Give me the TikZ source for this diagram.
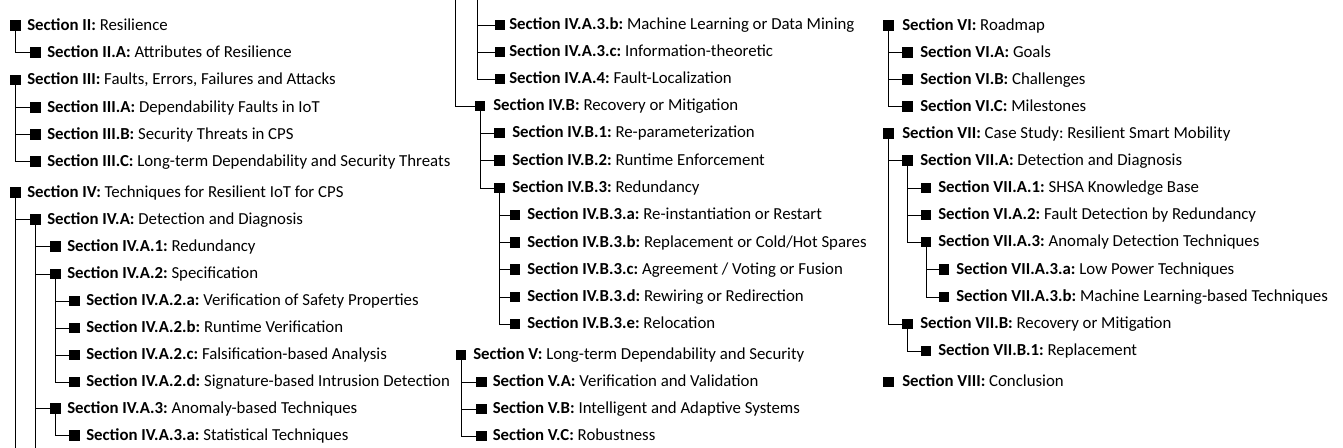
\documentclass[tikz,border=0pt]{standalone}
\usepackage{fontspec}
\setmainfont{Carlito}
\tikzset{
  sq/.style={fill=black, draw=none, inner sep=0pt, minimum size=7.6pt},
  lbl/.style={anchor=base west, inner sep=0pt, font=\fontsize{12.6}{15}\selectfont\frenchspacing},
  conn/.style={draw=black, line width=0.7pt}
}
\newcommand\ent[6]{%
  \node[sq] (#1) at (#2,#3) {};
  \node[lbl] (#1t) at (#4,#3+5) {\textbf{#5:} #6};}
\begin{document}
\begin{tikzpicture}[x=0.75pt,y=-0.75pt]
\fill[white] (0,0) rectangle (1343,448);
\useasboundingbox (0,0) rectangle (1343,448);
% column 1
\ent{s2}{15.5}{25.5}{27}{Section II}{Resilience}
\ent{s2A}{35.5}{52.5}{47}{Section II.A}{Attributes of Resilience}
\ent{s3}{15.5}{80}{27}{Section III}{Faults, Errors, Failures and Attacks}
\ent{s3A}{35.5}{107.5}{47}{Section III.A}{Dependability Faults in IoT}
\ent{s3B}{35.5}{134.5}{47}{Section III.B}{Security Threats in CPS}
\ent{s3C}{35.5}{161.5}{47}{Section III.C}{Long-term Dependability and Security Threats}
\ent{s4}{15.5}{192.5}{27}{Section IV}{Techniques for Resilient IoT for CPS}
\ent{s4A}{35.5}{219.5}{47}{Section IV.A}{Detection and Diagnosis}
\ent{s4A1}{55.5}{246.5}{67}{Section IV.A.1}{Redundancy}
\ent{s4A2}{55.5}{274}{67}{Section IV.A.2}{Specification}
\ent{s4A2a}{74.5}{301}{86}{Section IV.A.2.a}{Verification of Safety Properties}
\ent{s4A2b}{74.5}{328}{86}{Section IV.A.2.b}{Runtime Verification}
\ent{s4A2c}{74.5}{355}{86}{Section IV.A.2.c}{Falsification-based Analysis}
\ent{s4A2d}{74.5}{382}{86}{Section IV.A.2.d}{Signature-based Intrusion Detection}
\ent{s4A3}{55.5}{408.5}{67}{Section IV.A.3}{Anomaly-based Techniques}
\ent{s4A3a}{74.5}{435.5}{86}{Section IV.A.3.a}{Statistical Techniques}
% column 2
\ent{s4A3b}{500}{25}{509}{Section IV.A.3.b}{Machine Learning or Data Mining}
\ent{s4A3c}{500}{52}{509}{Section IV.A.3.c}{Information-theoretic}
\ent{s4A4}{500}{79}{509}{Section IV.A.4}{Fault-Localization}
\ent{s4B}{480}{106}{493}{Section IV.B}{Recovery or Mitigation}
\ent{s4B1}{499.5}{133}{512}{Section IV.B.1}{Re-parameterization}
\ent{s4B2}{499.5}{160.5}{512}{Section IV.B.2}{Runtime Enforcement}
\ent{s4B3}{499.5}{188}{512}{Section IV.B.3}{Redundancy}
\ent{s4B3a}{515}{215}{527}{Section IV.B.3.a}{Re-instantiation or Restart}
\ent{s4B3b}{515}{242.5}{527}{Section IV.B.3.b}{Replacement or Cold/Hot Spares}
\ent{s4B3c}{515}{269.5}{527}{Section IV.B.3.c}{Agreement / Voting or Fusion}
\ent{s4B3d}{515}{297}{527}{Section IV.B.3.d}{Rewiring or Redirection}
\ent{s4B3e}{515}{324}{527}{Section IV.B.3.e}{Relocation}
\ent{s5}{461}{355}{473}{Section V}{Long-term Dependability and Security}
\ent{s5A}{481.5}{382}{492.5}{Section V.A}{Verification and Validation}
\ent{s5B}{481.5}{409}{492.5}{Section V.B}{Intelligent and Adaptive Systems}
\ent{s5C}{481.5}{436}{492.5}{Section V.C}{Robustness}
% column 3
\ent{s6}{888.5}{25.5}{902}{Section VI}{Roadmap}
\ent{s6A}{907.5}{52.5}{920}{Section VI.A}{Goals}
\ent{s6B}{907.5}{79.5}{920}{Section VI.B}{Challenges}
\ent{s6C}{907.5}{106.5}{920}{Section VI.C}{Milestones}
\ent{s7}{888.5}{133.5}{902}{Section VII}{Case Study: Resilient Smart Mobility}
\ent{s7A}{907.5}{160.5}{920}{Section VII.A}{Detection and Diagnosis}
\ent{s7A1}{926}{188}{938}{Section VII.A.1}{SHSA Knowledge Base}
\ent{s7A2}{926}{215}{938}{Section VI.A.2}{Fault Detection by Redundancy}
\ent{s7A3}{926}{242}{938}{Section VII.A.3}{Anomaly Detection Techniques}
\ent{s7A3a}{944}{269.5}{956}{Section VII.A.3.a}{Low Power Techniques}
\ent{s7A3b}{944}{297}{956}{Section VII.A.3.b}{Machine Learning-based Techniques}
\ent{s7B}{907.5}{324}{920}{Section VII.B}{Recovery or Mitigation}
\ent{s7B1}{926}{351}{938}{Section VII.B.1}{Replacement}
\ent{s8}{888.5}{382}{902}{Section VIII}{Conclusion}
% continuation coordinates
\coordinate (bot) at (0,448);
\coordinate (c2a) at (455,0);
\coordinate (c2b) at (477.5,0);
% connectors
\foreach \p/\c in {s2/s2A, s3/s3A, s3/s3B, s3/s3C, s4/s4A,
  s4A/s4A1, s4A/s4A2, s4A/s4A3, s4A2/s4A2a, s4A2/s4A2b, s4A2/s4A2c, s4A2/s4A2d,
  s4A3/s4A3a, s4B/s4B1, s4B/s4B2, s4B/s4B3,
  s4B3/s4B3a, s4B3/s4B3b, s4B3/s4B3c, s4B3/s4B3d, s4B3/s4B3e,
  s5/s5A, s5/s5B, s5/s5C, s6/s6A, s6/s6B, s6/s6C,
  s7/s7A, s7/s7B, s7A/s7A1, s7A/s7A2, s7A/s7A3, s7A3/s7A3a, s7A3/s7A3b, s7B/s7B1}
  \draw[conn] (\p.center) |- (\c.west);
\draw[conn] (s4.center) -- (s4.center |- bot);
\draw[conn] (s4A.center) -- (s4A.center |- bot);
\draw[conn] (c2a) |- (s4B.west);
\draw[conn] (c2b) |- (s4A4.west);
\draw[conn] (c2b |- s4A3b.west) -- (s4A3b.west);
\draw[conn] (c2b |- s4A3c.west) -- (s4A3c.west);
\end{tikzpicture}
\end{document}
